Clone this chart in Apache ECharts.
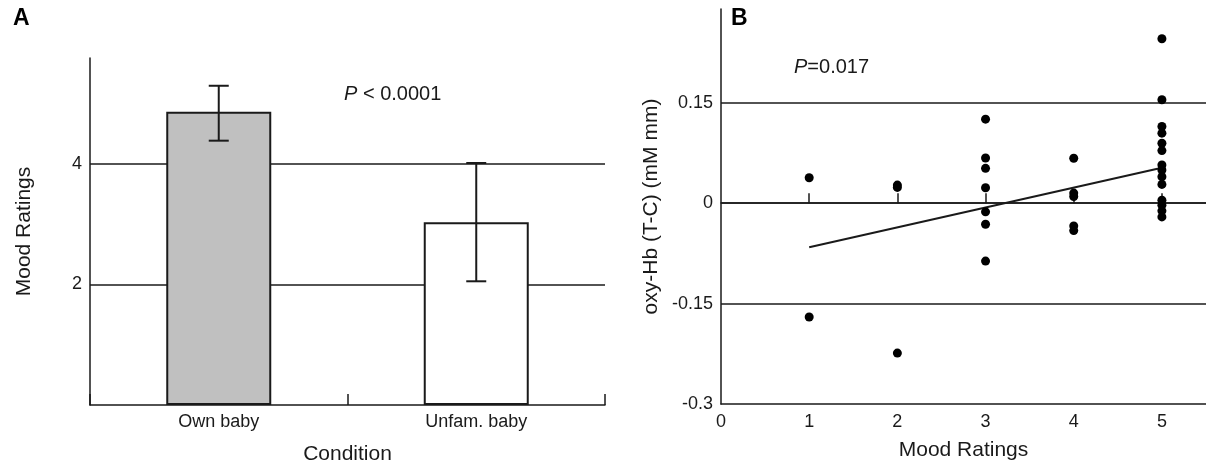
<!DOCTYPE html>
<html>
<head>
<meta charset="utf-8">
<script src="https://cdn.jsdelivr.net/npm/echarts@6/dist/echarts.min.js"></script>
<style>
  html, body { margin: 0; padding: 0; background: #fff; }
  #main { width: 1206px; height: 464px; }
</style>
</head>
<body>
<div id="main"></div>
<script>
// Panel A: mood ratings by condition
const categories = ["Own baby", "Unfam. baby"];
const moodMeans = [4.86, 3.03];
const errLow = [4.38, 2.05];
const errHigh = [5.29, 4.01];

// Panel B: oxy-Hb change per mood rating
const rating1 = [0.038, -0.17];
const rating2 = [0.027, 0.0235, -0.224];
const rating3 = [0.1255, 0.0675, 0.052, 0.023, -0.013, -0.0315, -0.0865];
const rating4 = [0.067, 0.015, 0.01, -0.034, -0.041];
const rating5 = [0.2455, 0.1545, 0.1145, 0.1045, 0.0895, 0.0785, 0.057, 0.0495,
  0.0395, 0.028, 0.0045, -0.003, -0.0115, -0.0205];
const fitX = [1, 5];
const fitY = [-0.066, 0.053];
const zeroTicks = [1, 2, 3, 4, 5];

const font = "Liberation Sans";
const ink = "#1a1a1a";

const chart = echarts.init(document.getElementById("main"));

const scatterData = [];
[rating1, rating2, rating3, rating4, rating5].forEach((vals, i) => {
  vals.forEach((v) => scatterData.push([i + 1, v]));
});

const axisText = { color: ink, fontFamily: font, fontSize: 18 };
const nameText = { color: ink, fontFamily: font, fontSize: 21 };
const lineStyle = { color: ink, width: 1.5 };

option = {
  animation: false,
  backgroundColor: "#fff",
  grid: [
    { left: 90, right: 601, top: 58, bottom: 59, outerBoundsMode: "none" },
    { left: 721, right: 0, top: 9, bottom: 60, outerBoundsMode: "none" },
  ],
  xAxis: [
    {
      gridIndex: 0,
      type: "category",
      data: categories,
      name: "Condition",
      nameLocation: "middle",
      nameGap: 39,
      nameTextStyle: nameText,
      axisLine: { show: true, lineStyle: lineStyle },
      axisTick: { show: true, inside: true, length: 11, interval: 0, alignWithLabel: false, lineStyle: lineStyle },
      axisLabel: Object.assign({ margin: 8, interval: 0 }, axisText),
    },
    {
      gridIndex: 1,
      type: "value",
      min: 0,
      max: 5.5,
      interval: 1,
      name: "Mood Ratings",
      nameLocation: "middle",
      nameGap: 36,
      nameTextStyle: nameText,
      axisLine: { onZero: false, lineStyle: lineStyle },
      axisTick: { show: false },
      axisLabel: Object.assign({ margin: 9, showMaxLabel: false }, axisText),
      splitLine: { show: false },
    },
    {
      // zero line with upward ticks
      gridIndex: 1,
      type: "value",
      position: "top",
      min: 0,
      max: 5.5,
      interval: 1,
      axisLine: { onZero: true, lineStyle: lineStyle },
      axisTick: { show: true, inside: false, length: 10, customValues: zeroTicks, lineStyle: lineStyle },
      axisLabel: { show: false },
      splitLine: { show: false },
    },
  ],
  yAxis: [
    {
      gridIndex: 0,
      type: "value",
      min: 0,
      max: 5.75,
      interval: 2,
      name: "Mood Ratings",
      nameLocation: "middle",
      nameGap: 55,
      nameTextStyle: nameText,
      axisLine: { show: true, lineStyle: lineStyle },
      axisTick: { show: false },
      axisLabel: Object.assign({ margin: 8, showMinLabel: false, showMaxLabel: false }, axisText),
      splitLine: { show: true, showMinLine: false, showMaxLine: false, lineStyle: lineStyle },
    },
    {
      gridIndex: 1,
      type: "value",
      min: -0.3,
      max: 0.29,
      interval: 0.15,
      name: "oxy-Hb (T-C) (mM mm)",
      nameLocation: "middle",
      nameGap: 59,
      nameTextStyle: nameText,
      axisLine: { show: true, onZero: false, lineStyle: lineStyle },
      axisTick: { show: false },
      axisLabel: Object.assign({ margin: 8, showMaxLabel: false }, axisText),
      splitLine: { show: true, showMinLine: false, showMaxLine: false, lineStyle: lineStyle },
    },
  ],
  graphic: [
    { type: "text", left: 13, top: 7, style: { text: "A", font: "bold 23px " + font, fill: "#000" } },
    { type: "text", left: 731, top: 7, style: { text: "B", font: "bold 23px " + font, fill: "#000" } },
    {
      type: "text", left: 344, top: 84,
      style: {
        text: "{i|P} < 0.0001",
        fill: ink,
        font: "20px " + font,
        rich: { i: { fontStyle: "italic", fontFamily: font, fontSize: 20, color: ink } },
      },
    },
    {
      type: "text", left: 794, top: 57,
      style: {
        text: "{i|P}=0.017",
        fill: ink,
        font: "20px " + font,
        rich: { i: { fontStyle: "italic", fontFamily: font, fontSize: 20, color: ink } },
      },
    },
  ],
  series: [
    {
      type: "bar",
      xAxisIndex: 0,
      yAxisIndex: 0,
      barWidth: 105,
      z: 3,
      data: moodMeans,
      itemStyle: {
        color: (p) => (p.dataIndex === 0 ? "#c0c0c0" : "#ffffff"),
        borderColor: ink,
        borderWidth: 2,
      },
    },
    {
      type: "custom",
      xAxisIndex: 0,
      yAxisIndex: 0,
      z: 5,
      data: categories.map((c, i) => [i, errLow[i], errHigh[i]]),
      encode: { x: 0, y: [1, 2] },
      renderItem: (params, api) => {
        const lo = api.coord([api.value(0), api.value(1)]);
        const hi = api.coord([api.value(0), api.value(2)]);
        const cap = 10;
        const st = { stroke: ink, lineWidth: 2 };
        return {
          type: "group",
          children: [
            { type: "line", shape: { x1: lo[0], y1: lo[1], x2: hi[0], y2: hi[1] }, style: st },
            { type: "line", shape: { x1: lo[0] - cap, y1: lo[1], x2: lo[0] + cap, y2: lo[1] }, style: st },
            { type: "line", shape: { x1: hi[0] - cap, y1: hi[1], x2: hi[0] + cap, y2: hi[1] }, style: st },
          ],
        };
      },
    },
    {
      type: "scatter",
      xAxisIndex: 1,
      yAxisIndex: 1,
      symbolSize: 9,
      z: 5,
      itemStyle: { color: "#000", opacity: 1 },
      data: scatterData,
    },
    {
      type: "line",
      xAxisIndex: 1,
      yAxisIndex: 1,
      symbol: "none",
      z: 4,
      lineStyle: { color: ink, width: 2 },
      data: fitX.map((x, i) => [x, fitY[i]]),
    },
  ],
};

chart.setOption(option);
</script>
</body>
</html>
